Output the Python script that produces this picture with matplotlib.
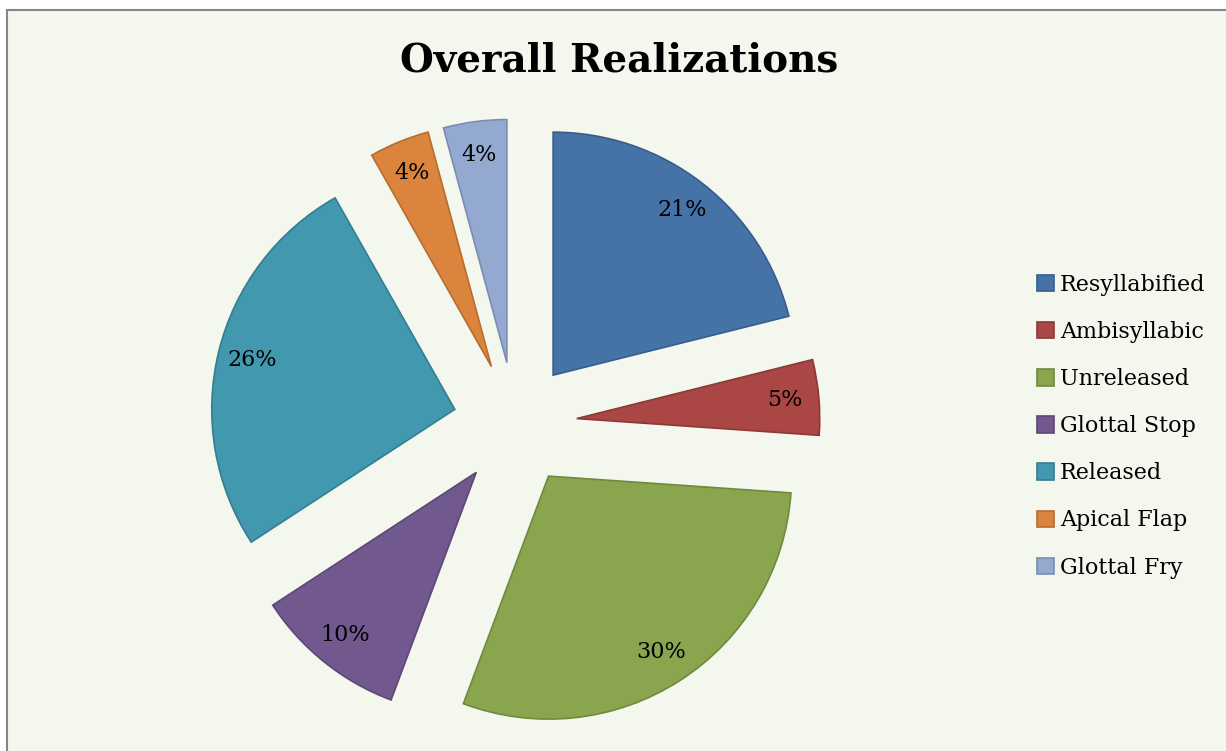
import matplotlib
matplotlib.use("Agg")
import matplotlib.pyplot as plt
from matplotlib.patches import Rectangle

categories = ["Resyllabified", "Ambisyllabic", "Unreleased", "Glottal Stop",
              "Released", "Apical Flap", "Glottal Fry"]
values = [21.1, 5.0, 29.6, 10.1, 26.0, 4.0, 4.2]
title = "Overall Realizations"

face_colors = ["#4572A7", "#AA4643", "#89A54E", "#71588F", "#4198AF", "#DB843D", "#93A9CF"]
edge_colors = ["#385D8A", "#8C3836", "#71893F", "#5C4776", "#357D91", "#B66D31", "#7A8DB0"]
bg = "#F4F7EE"

W, H = 1226, 751
fig = plt.figure(figsize=(W / 100, H / 100), dpi=100, facecolor=bg)

# pixel geometry of the pie
cx, cy, R = 515, 424, 243
ax = fig.add_axes([0, 0, 1, 1])

wedges, texts, autotexts = ax.pie(
    values, startangle=90, counterclock=False, radius=1.0,
    explode=[0.255] * len(values), colors=face_colors,
    autopct="%1.0f%%", pctdistance=0.86,
    wedgeprops=dict(linewidth=1.2),
    textprops=dict(family="DejaVu Serif", fontsize=16, color="black"),
)
for w, ec in zip(wedges, edge_colors):
    w.set_edgecolor(ec)

ax.set_xlim(-cx / R, (W - cx) / R)
ax.set_ylim(-(H - cy) / R, cy / R)
ax.set_aspect("equal")
ax.axis("off")

fig.text(619 / W, 1 - 60 / H, title, ha="center", va="center",
         family="DejaVu Serif", fontweight="bold", fontsize=28)

leg = fig.legend(wedges, categories, loc="upper left",
                 bbox_to_anchor=(1028 / W, 1 - 265 / H), frameon=False,
                 prop=dict(family="DejaVu Serif", size=16),
                 handlelength=0.75, handleheight=0.75, handletextpad=0.3,
                 labelspacing=1.13, borderaxespad=0)

# chart border (top and left visible)
fig.add_artist(plt.Line2D([7 / W, 7 / W], [0, 1 - 10 / H], transform=fig.transFigure,
                          color="#868686", lw=1.5))
fig.add_artist(plt.Line2D([7 / W, 1], [1 - 10 / H, 1 - 10 / H], transform=fig.transFigure,
                          color="#868686", lw=1.5))
# white margin outside the chart area
fig.patches.append(Rectangle((0, 0), 6 / W, 1, transform=fig.transFigure,
                             facecolor="white", edgecolor="none", zorder=-1))
fig.patches.append(Rectangle((0, 1 - 9 / H), 1, 9 / H, transform=fig.transFigure,
                             facecolor="white", edgecolor="none", zorder=-1))

fig.savefig("out.png", dpi=100, facecolor=bg)
